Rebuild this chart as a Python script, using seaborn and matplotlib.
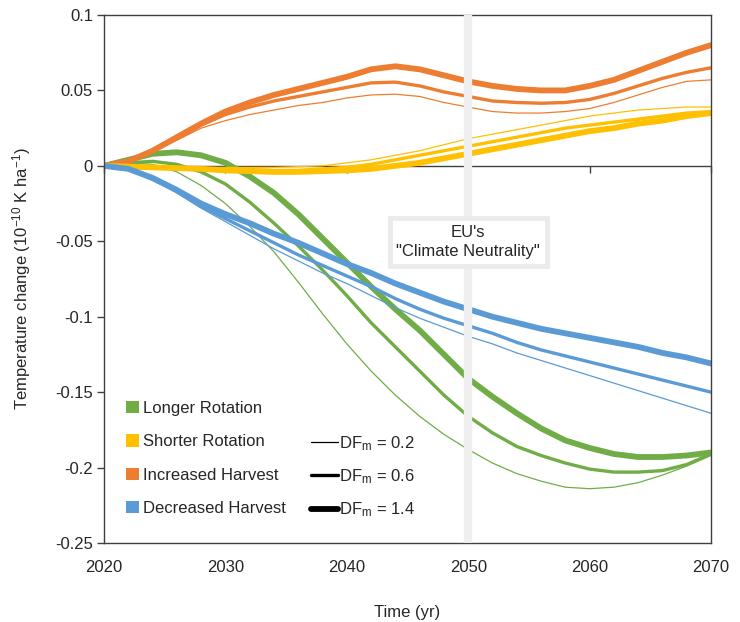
import numpy as np
import pandas as pd
import matplotlib
matplotlib.use("Agg")
import matplotlib.pyplot as plt
import seaborn as sns
from matplotlib.patches import Patch
from matplotlib.lines import Line2D

# ---------------- data ----------------
years = list(range(2020, 2071, 2))

scenarios = ["Longer Rotation", "Shorter Rotation", "Increased Harvest", "Decreased Harvest"]
colors = ["#70AD47", "#FFC000", "#ED7D31", "#5B9BD5"]
df_levels = [0.2, 0.6, 1.4]
df_labels = ["DF$_{\\mathregular{m}}$ = 0.2", "DF$_{\\mathregular{m}}$ = 0.6", "DF$_{\\mathregular{m}}$ = 1.4"]

longer_02 = [0.000, 0.002, 0.001, -0.004, -0.013, -0.025, -0.040, -0.057, -0.077, -0.098, -0.118, -0.136, -0.152,
             -0.166, -0.178, -0.188, -0.197, -0.204, -0.209, -0.213, -0.214, -0.213, -0.210, -0.205, -0.199, -0.192]
longer_06 = [0.000, 0.002, 0.003, 0.001, -0.004, -0.012, -0.024, -0.038, -0.053, -0.069, -0.086, -0.104, -0.120,
             -0.136, -0.152, -0.166, -0.177, -0.186, -0.192, -0.197, -0.201, -0.203, -0.203, -0.202, -0.198, -0.191]
longer_14 = [0.000, 0.004, 0.008, 0.009, 0.007, 0.002, -0.007, -0.018, -0.032, -0.048, -0.064, -0.080, -0.095,
             -0.109, -0.125, -0.141, -0.153, -0.164, -0.174, -0.182, -0.187, -0.191, -0.193, -0.193, -0.192, -0.190]

shorter_02 = [0.000, 0.000, -0.0005, -0.0008, -0.001, -0.001, -0.001, -0.001, -0.0005, 0.000, 0.002, 0.004, 0.007,
              0.010, 0.014, 0.018, 0.021, 0.024, 0.027, 0.030, 0.033, 0.035, 0.037, 0.038, 0.039, 0.039]
shorter_06 = [0.000, -0.0005, -0.001, -0.0015, -0.002, -0.002, -0.0025, -0.003, -0.003, -0.002, -0.001, 0.001, 0.004,
              0.007, 0.010, 0.013, 0.016, 0.019, 0.022, 0.025, 0.027, 0.029, 0.031, 0.033, 0.035, 0.036]
shorter_14 = [0.000, -0.0005, -0.001, -0.0015, -0.002, -0.003, -0.0035, -0.004, -0.004, -0.0035, -0.003, -0.002, 0.000,
              0.002, 0.005, 0.008, 0.011, 0.014, 0.017, 0.020, 0.023, 0.025, 0.028, 0.030, 0.033, 0.035]

increased_02 = [0.000, 0.003, 0.009, 0.017, 0.025, 0.030, 0.034, 0.037, 0.040, 0.042, 0.045, 0.047, 0.0475,
                0.046, 0.042, 0.039, 0.036, 0.035, 0.035, 0.036, 0.038, 0.042, 0.047, 0.052, 0.056, 0.057]
increased_06 = [0.000, 0.003, 0.010, 0.018, 0.027, 0.034, 0.039, 0.043, 0.046, 0.049, 0.052, 0.055, 0.0555,
                0.053, 0.049, 0.046, 0.043, 0.042, 0.0415, 0.042, 0.044, 0.048, 0.053, 0.058, 0.062, 0.065]
increased_14 = [0.000, 0.003, 0.010, 0.019, 0.028, 0.036, 0.042, 0.047, 0.051, 0.055, 0.059, 0.064, 0.066,
                0.064, 0.060, 0.056, 0.053, 0.051, 0.050, 0.050, 0.053, 0.057, 0.063, 0.069, 0.075, 0.080]

decreased_02 = [0.000, -0.002, -0.009, -0.018, -0.028, -0.037, -0.046, -0.055, -0.063, -0.071, -0.078, -0.086, -0.094,
                -0.101, -0.107, -0.113, -0.118, -0.124, -0.129, -0.134, -0.139, -0.144, -0.149, -0.154, -0.159, -0.164]
decreased_06 = [0.000, -0.002, -0.009, -0.017, -0.027, -0.035, -0.043, -0.051, -0.059, -0.066, -0.073, -0.080, -0.088,
                -0.095, -0.101, -0.106, -0.111, -0.117, -0.122, -0.126, -0.130, -0.134, -0.138, -0.142, -0.146, -0.150]
decreased_14 = [0.000, -0.002, -0.008, -0.016, -0.025, -0.032, -0.038, -0.045, -0.051, -0.058, -0.065, -0.071, -0.078,
                -0.084, -0.090, -0.095, -0.100, -0.104, -0.108, -0.111, -0.114, -0.117, -0.120, -0.124, -0.127, -0.131]

x_ticks = [2020, 2030, 2040, 2050, 2060, 2070]
y_ticks = [-0.25, -0.2, -0.15, -0.1, -0.05, 0, 0.05, 0.1]
y_tick_labels = ["-0.25", "-0.2", "-0.15", "-0.1", "-0.05", "0", "0.05", "0.1"]
neutrality_year = 2050
neutrality_text = "EU's\n\"Climate Neutrality\""

series = {
    ("Longer Rotation", 0.2): longer_02, ("Longer Rotation", 0.6): longer_06, ("Longer Rotation", 1.4): longer_14,
    ("Shorter Rotation", 0.2): shorter_02, ("Shorter Rotation", 0.6): shorter_06, ("Shorter Rotation", 1.4): shorter_14,
    ("Increased Harvest", 0.2): increased_02, ("Increased Harvest", 0.6): increased_06, ("Increased Harvest", 1.4): increased_14,
    ("Decreased Harvest", 0.2): decreased_02, ("Decreased Harvest", 0.6): decreased_06, ("Decreased Harvest", 1.4): decreased_14,
}
rows = []
for (sc, dfm), vals in series.items():
    for yr, v in zip(years, vals):
        rows.append({"year": yr, "value": v, "scenario": sc, "dfm": dfm})
data = pd.DataFrame(rows)

# ---------------- style ----------------
sns.set_theme(style="white")
plt.rcParams['font.family'] = ['Liberation Sans', 'DejaVu Sans']
plt.rcParams['mathtext.fontset'] = 'custom'
plt.rcParams['mathtext.rm'] = 'Liberation Sans'
plt.rcParams['mathtext.it'] = 'Liberation Sans:italic'
plt.rcParams['mathtext.bf'] = 'Liberation Sans:bold'

W, H = 740, 622
fig = plt.figure(figsize=(W / 100, H / 100), dpi=100)
ax = fig.add_axes([104 / W, 1 - 543 / H, (711 - 104) / W, (543 - 15) / H])

palette = dict(zip(scenarios, colors))
sizes = {0.2: 0.9, 0.6: 2.4, 1.4: 4.2}
draw_order = ["Longer Rotation", "Increased Harvest", "Shorter Rotation", "Decreased Harvest"]
for sc in draw_order:
    sub = data[data["scenario"] == sc]
    sns.lineplot(data=sub, x="year", y="value", hue="scenario", size="dfm", sizes=sizes,
                 palette=palette, estimator=None, legend=False, ax=ax, zorder=2,
                 solid_joinstyle="round")

ax.axhline(0, color="#404040", lw=1.0, zorder=1.5)
ax.axvline(neutrality_year, color="#EFEFEF", lw=6, zorder=3)
ax.text(neutrality_year, -0.0505, neutrality_text, ha="center", va="center", fontsize=12,
        linespacing=1.4, zorder=5,
        bbox=dict(boxstyle="square,pad=0.4", fc="white", ec="#EBEBEB", lw=3.5))

ax.set_xlim(2020, 2070)
ax.set_ylim(-0.25, 0.1)
ax.set_xticks(x_ticks)
ax.set_xticklabels([str(t) for t in x_ticks], fontsize=12)
ax.set_yticks(y_ticks)
ax.set_yticklabels(y_tick_labels, fontsize=12)
ax.tick_params(axis="x", length=0, pad=12, colors="#262626")
ax.tick_params(axis="y", direction="out", length=5, width=1, color="#404040", pad=3, labelcolor="#262626", left=True)
for sp in ax.spines.values():
    sp.set_color("#404040")
    sp.set_linewidth(1.0)

# tick marks along the zero line (Excel axis crossing at 0)
sec = ax.secondary_xaxis(0.25 / 0.35)
sec.set_alignment("bottom")
sec.set_xticks(x_ticks)
sec.tick_params(axis="x", direction="out", length=5, width=1, color="#404040", labelbottom=False, bottom=True)
sec.spines["bottom"].set_visible(False)

ax.set_xlabel("Time (yr)", fontsize=12, labelpad=22, color="#262626")
ax.set_ylabel("Temperature change (10$^{\\mathregular{-10}}$ K ha$^{\\mathregular{-1}}$)", fontsize=12,
              labelpad=16, color="#262626")

# legends
color_handles = [Patch(facecolor=c, edgecolor="none") for c in colors]
leg1 = ax.legend(color_handles, scenarios, loc="upper left", bbox_to_anchor=(126 / W, 1 - 401 / H),
                 bbox_transform=fig.transFigure, frameon=False, fontsize=12, handlelength=0.75,
                 handleheight=0.75, handletextpad=0.25, labelspacing=1.1, borderpad=0, borderaxespad=0)
ax.add_artist(leg1)
line_handles = [Line2D([0], [0], color="black", lw=sizes[d]) for d in df_levels]
for h in line_handles:
    h.set_solid_capstyle("round")
leg2 = ax.legend(line_handles, df_labels, loc="upper left", bbox_to_anchor=(311 / W, 1 - 434 / H),
                 bbox_transform=fig.transFigure, frameon=False, fontsize=12, handlelength=1.6,
                 handletextpad=0.1, labelspacing=0.87, borderpad=0, borderaxespad=0)

fig.savefig("out.png", dpi=100)
